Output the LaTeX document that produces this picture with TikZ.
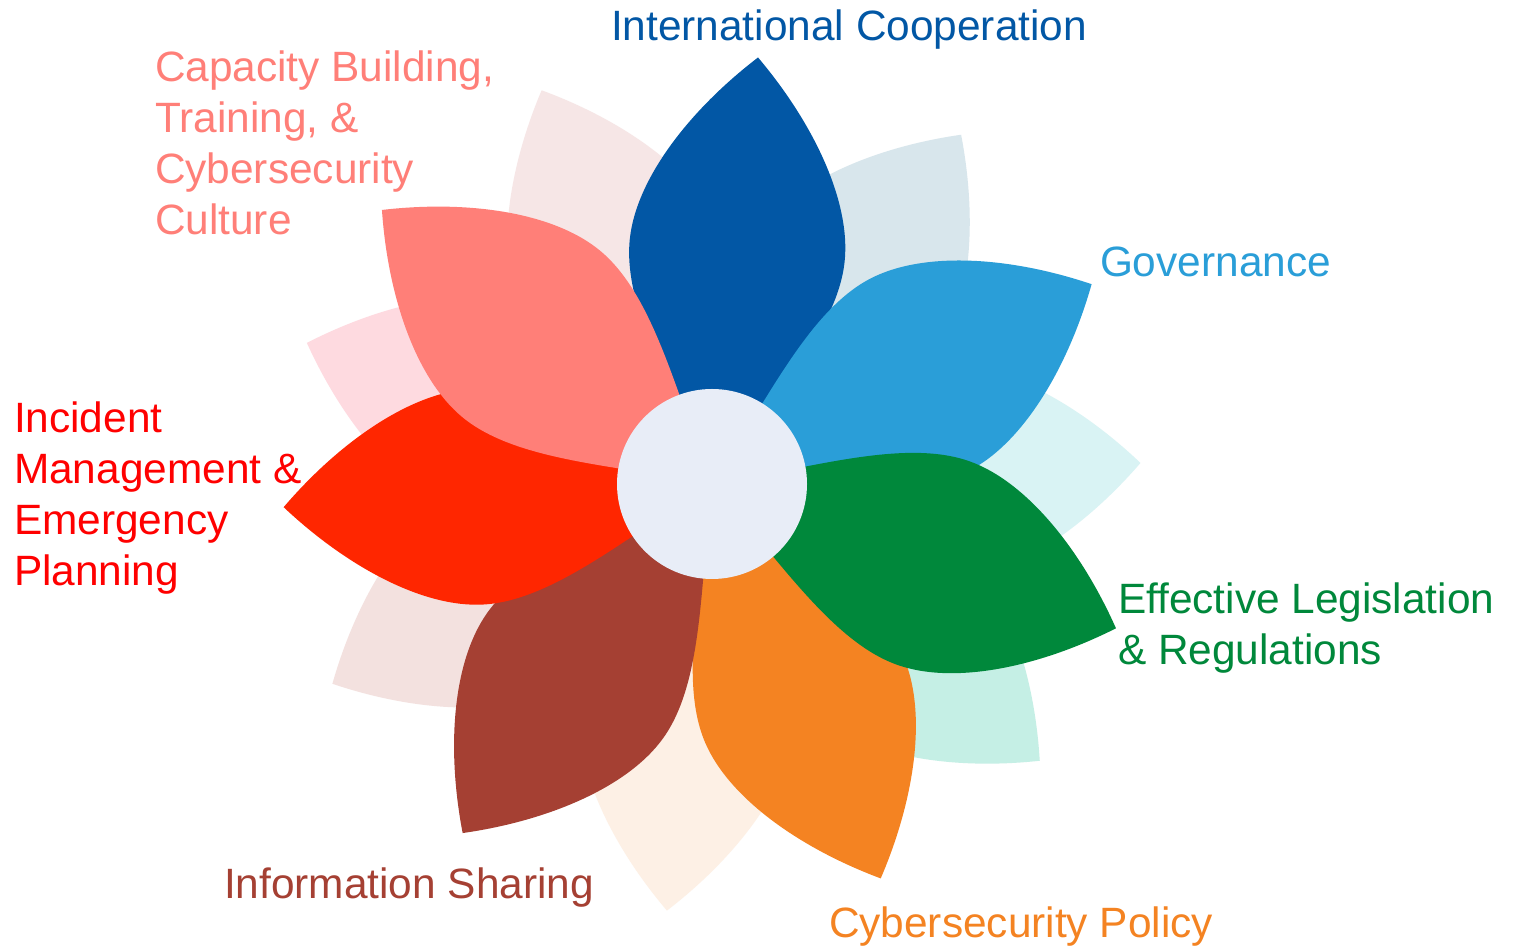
\documentclass[tikz,border=0pt]{standalone}
\usepackage{fontspec}
\setmainfont{Liberation Sans}
\definecolor{cIC}{HTML}{0257A5}
\definecolor{cGov}{HTML}{2A9ED8}
\definecolor{cEL}{HTML}{00883B}
\definecolor{cCP}{HTML}{F48322}
\definecolor{cIS}{HTML}{A54033}
\definecolor{cIM}{HTML}{FF2600}
\definecolor{cIMt}{HTML}{FF0000}
\definecolor{cCB}{HTML}{FF7F78}
\definecolor{cCenter}{HTML}{E8EDF7}
\definecolor{lA}{HTML}{D8E6EC}
\definecolor{lB}{HTML}{D9F3F4}
\definecolor{lC}{HTML}{C5EFE5}
\definecolor{lD}{HTML}{FDF0E5}
\definecolor{lE}{HTML}{F3E1DF}
\definecolor{lF}{HTML}{FEDAE0}
\definecolor{lG}{HTML}{F6E6E6}
\newcommand{\flowerpetal}[2]{%
  \fill[#2, shift={(712,468)}, rotate=#1]
    (0,0) .. controls (85,46) and (165,108) .. (235,108)
          .. controls (295,108) and (369,63) .. (429,0)
          .. controls (369,-63) and (295,-108) .. (235,-108)
          .. controls (165,-108) and (85,-46) .. (0,0) -- cycle;}
\begin{document}
\begin{tikzpicture}[x=0.5pt,y=0.5pt,
  lbl/.style={inner sep=0pt, outer sep=0pt, anchor=base west,
    font=\fontsize{21.2}{25.5}\selectfont}]
\useasboundingbox (0,0) rectangle (1522,952);
\fill[white] (0,0) rectangle (1522,952);
% light petals (background)
\flowerpetal{54.5}{lA}
\flowerpetal{2.81}{lB}
\flowerpetal{-40.18}{lC}
\flowerpetal{-96.03}{lD}
\flowerpetal{-152.24}{lE}
\flowerpetal{160.8}{lF}
\flowerpetal{113.4}{lG}
% dark petals
\flowerpetal{83.84}{cIC}
\flowerpetal{-66.84}{cCP}
\flowerpetal{27.76}{cGov}
\flowerpetal{-125.54}{cIS}
\flowerpetal{-19.66}{cEL}
\flowerpetal{-176.9}{cIM}
\flowerpetal{140.3}{cCB}
% centre
\fill[cCenter] (712,468) circle (95);
% labels
\node[lbl, text=cIC] (tIC) at (611,911) {International Cooperation};
\node[lbl, text=cGov] (tGov) at (1100,675) {Governance};
\node[lbl, text=cEL] (tEL) at (1118,338) {\parbox[t]{300pt}{\raggedright Effective Legislation\\ \& Regulations}};
\node[lbl, text=cCP] (tCP) at (829,14) {Cybersecurity Policy};
\node[lbl, text=cIS] (tIS) at (224,53) {Information Sharing};
\node[lbl, text=cIMt] (tIM) at (14,519) {\parbox[t]{200pt}{\raggedright Incident\\ Management \&\\ Emergency\\ Planning}};
\node[lbl, text=cCB] (tCB) at (155,870) {\parbox[t]{200pt}{\raggedright Capacity Building,\\ Training, \&\\ Cybersecurity\\ Culture}};
\end{tikzpicture}
\end{document}
